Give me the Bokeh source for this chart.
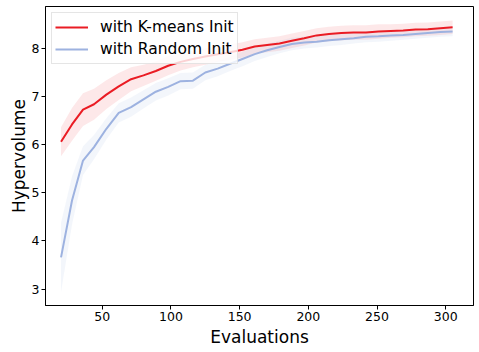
from bokeh.plotting import figure
from bokeh.models import Range1d, Legend, LegendItem, FixedTicker
from bokeh.embed import file_html
from bokeh.resources import INLINE

evaluations = [20, 28, 36, 44, 53, 62, 71, 80, 89, 98, 107, 116, 125, 134, 143, 152, 161,
               170, 179, 188, 197, 206, 215, 224, 233, 242, 251, 260, 269, 278, 287, 296, 305]

kmeans_mean = [6.06, 6.42, 6.73, 6.84, 7.04, 7.21, 7.36, 7.44, 7.53, 7.64, 7.72, 7.78, 7.83,
               7.88, 7.92, 7.97, 8.04, 8.07, 8.10, 8.16, 8.21, 8.27, 8.30, 8.32, 8.33, 8.33,
               8.35, 8.36, 8.37, 8.39, 8.40, 8.42, 8.44]
kmeans_std = [0.30, 0.34, 0.34, 0.32, 0.30, 0.28, 0.25, 0.22, 0.20, 0.20, 0.18, 0.17, 0.17,
              0.16, 0.16, 0.16, 0.15, 0.15, 0.15, 0.15, 0.15, 0.15, 0.15, 0.15, 0.15, 0.15,
              0.15, 0.14, 0.14, 0.14, 0.14, 0.14, 0.14]

random_mean = [3.66, 4.84, 5.67, 5.95, 6.33, 6.66, 6.78, 6.94, 7.10, 7.20, 7.32, 7.33, 7.50,
               7.58, 7.68, 7.78, 7.88, 7.96, 8.03, 8.09, 8.12, 8.14, 8.17, 8.19, 8.21, 8.24,
               8.25, 8.27, 8.28, 8.30, 8.32, 8.34, 8.35]
random_std = [0.72, 0.50, 0.30, 0.25, 0.22, 0.20, 0.20, 0.19, 0.18, 0.18, 0.17, 0.17, 0.16,
              0.16, 0.15, 0.15, 0.14, 0.14, 0.13, 0.13, 0.12, 0.12, 0.12, 0.12, 0.11, 0.11,
              0.11, 0.11, 0.10, 0.10, 0.10, 0.10, 0.10]

x_ticks = [50, 100, 150, 200, 250, 300]
y_ticks = [3, 4, 5, 6, 7, 8]

labels = ["with K-means Init", "with Random Init"]
RED = "#ea1c24"
BLUE = "#9db2e0"
FONT = "DejaVu Sans"

p = figure(width=474, height=350, output_backend="svg", toolbar_location=None,
           x_range=Range1d(8.7, 320.2), y_range=Range1d(2.66, 8.87),
           min_border_left=45, min_border_right=1, min_border_top=6, min_border_bottom=45)

k_lo = [m - s for m, s in zip(kmeans_mean, kmeans_std)]
k_hi = [m + s for m, s in zip(kmeans_mean, kmeans_std)]
r_lo = [m - s for m, s in zip(random_mean, random_std)]
r_hi = [m + s for m, s in zip(random_mean, random_std)]

p.varea(x=evaluations, y1=k_lo, y2=k_hi, fill_color=RED, fill_alpha=0.1)
p.varea(x=evaluations, y1=r_lo, y2=r_hi, fill_color=BLUE, fill_alpha=0.12)
lk = p.line(evaluations, kmeans_mean, line_color=RED, line_width=2)
lr = p.line(evaluations, random_mean, line_color=BLUE, line_width=2)

legend = Legend(items=[LegendItem(label=labels[0], renderers=[lk]),
                       LegendItem(label=labels[1], renderers=[lr])],
                location="top_left", margin=6, padding=3, spacing=0,
                glyph_width=33, glyph_height=22, label_height=22, label_standoff=12,
                label_text_font=FONT, label_text_font_size="15.5px",
                label_text_color="black",
                border_line_color="#cccccc", border_line_width=1,
                background_fill_alpha=0.8)
p.add_layout(legend)

p.grid.visible = False
p.outline_line_color = "black"
p.outline_line_width = 1
p.outline_line_alpha = 1

for ax, ticks in ((p.xaxis, x_ticks), (p.yaxis, y_ticks)):
    ax.ticker = FixedTicker(ticks=ticks)
    ax.major_tick_out = 4
    ax.major_tick_in = 0
    ax.minor_tick_out = 0
    ax.minor_tick_in = 0
    ax.major_label_text_font = FONT
    ax.major_label_text_font_size = "12.5px"
    ax.major_label_text_color = "black"
    ax.axis_label_text_font = FONT
    ax.axis_label_text_font_size = "17px"
    ax.axis_label_text_font_style = "normal"
    ax.axis_label_text_color = "black"
    ax.axis_line_color = "black"
    ax.major_tick_line_color = "black"

p.xaxis.major_label_standoff = 2
p.xaxis.axis_label_standoff = 3
p.yaxis.major_label_standoff = 2
p.yaxis.axis_label_standoff = 0

p.xaxis.axis_label = "Evaluations"
p.yaxis.axis_label = "Hypervolume"

open("out.html", "w").write(file_html(p, INLINE))
